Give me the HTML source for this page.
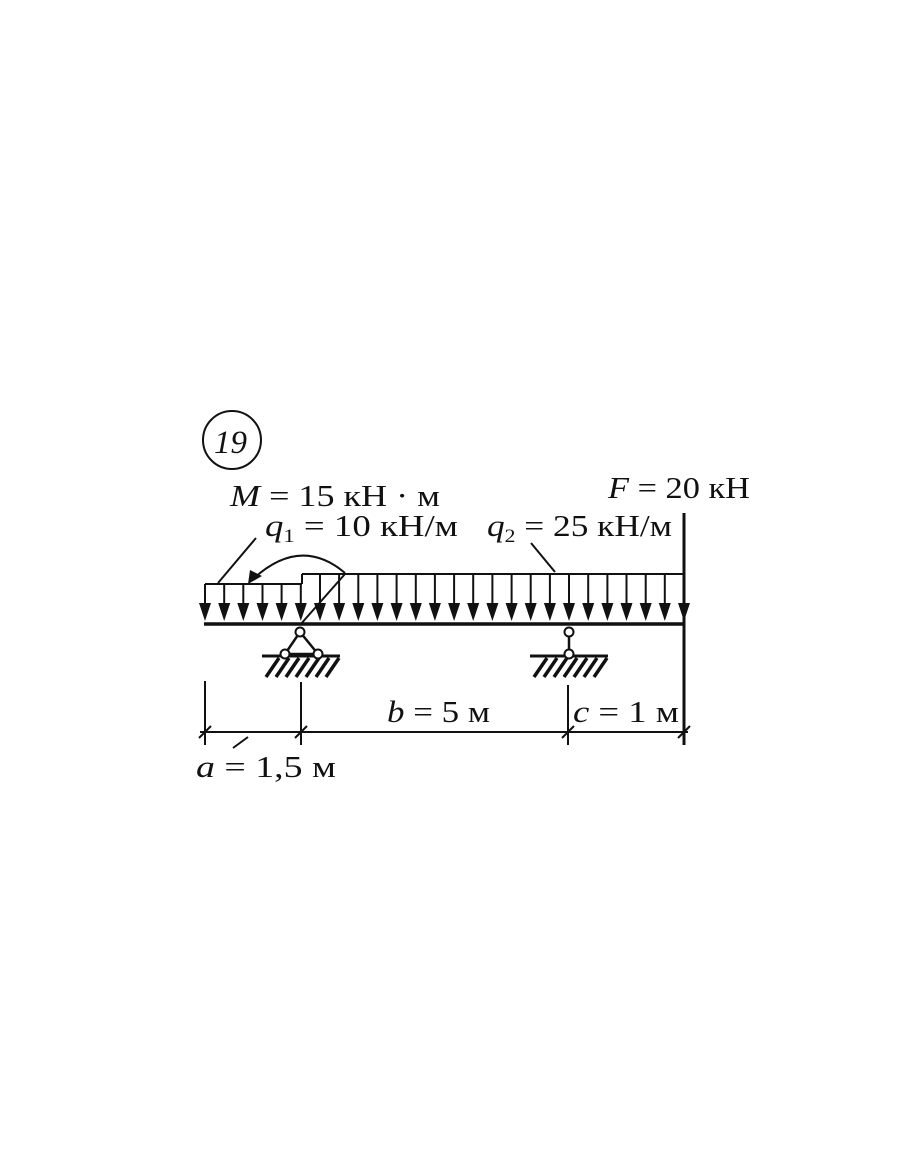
<!DOCTYPE html>
<html><head><meta charset="utf-8"><style>html,body{margin:0;padding:0;background:#fff}svg{display:block}text{font-family:"Liberation Serif",serif}</style></head>
<body>
<svg width="910" height="1155" viewBox="0 0 910 1155" xmlns="http://www.w3.org/2000/svg" fill="#111">
<rect width="910" height="1155" fill="#fff"/>
<circle cx="232" cy="440" r="29" fill="none" stroke="#111" stroke-width="2"/>
<text x="214" y="453" font-size="33" font-style="italic">19</text>
<text x="230" y="506" font-size="31" textLength="210" lengthAdjust="spacingAndGlyphs"><tspan font-style="italic">M</tspan> = 15 кН · м</text>
<text x="265" y="536" font-size="31" textLength="193" lengthAdjust="spacingAndGlyphs"><tspan font-style="italic">q</tspan><tspan font-size="19" dy="6">1</tspan><tspan dy="-6"> = 10 кН/м</tspan></text>
<text x="487" y="536" font-size="31" textLength="185" lengthAdjust="spacingAndGlyphs"><tspan font-style="italic">q</tspan><tspan font-size="19" dy="6">2</tspan><tspan dy="-6"> = 25 кН/м</tspan></text>
<text x="608" y="498" font-size="31" textLength="142" lengthAdjust="spacingAndGlyphs"><tspan font-style="italic">F</tspan> = 20 кН</text>
<g stroke="#111" fill="none" stroke-width="2">
<line x1="684" y1="513" x2="684" y2="745" stroke-width="3"/>
<line x1="205" y1="584" x2="302" y2="584"/>
<line x1="302" y1="574" x2="684" y2="574"/>
<line x1="302" y1="574" x2="302" y2="584"/>
<line x1="204" y1="624" x2="685" y2="624" stroke-width="3.5"/>
<line x1="218" y1="583" x2="256" y2="538"/>
<line x1="555" y1="572" x2="531" y2="543"/>
<path d="M345 573 Q300 535 252 580"/>
<line x1="345" y1="574" x2="300" y2="625"/>
</g>
<polygon points="248,584 250,570 262,576"/>
<g stroke="#111" stroke-width="2">
<line x1="205" y1="584" x2="205" y2="606"/><line x1="224.2" y1="584" x2="224.2" y2="606"/><line x1="243.3" y1="584" x2="243.3" y2="606"/><line x1="262.5" y1="584" x2="262.5" y2="606"/><line x1="281.6" y1="584" x2="281.6" y2="606"/><line x1="300.8" y1="584" x2="300.8" y2="606"/>
<line x1="320" y1="574" x2="320" y2="606"/><line x1="339.1" y1="574" x2="339.1" y2="606"/><line x1="358.3" y1="574" x2="358.3" y2="606"/><line x1="377.4" y1="574" x2="377.4" y2="606"/><line x1="396.6" y1="574" x2="396.6" y2="606"/><line x1="415.8" y1="574" x2="415.8" y2="606"/><line x1="434.9" y1="574" x2="434.9" y2="606"/><line x1="454.1" y1="574" x2="454.1" y2="606"/><line x1="473.2" y1="574" x2="473.2" y2="606"/><line x1="492.4" y1="574" x2="492.4" y2="606"/><line x1="511.6" y1="574" x2="511.6" y2="606"/><line x1="530.7" y1="574" x2="530.7" y2="606"/><line x1="549.9" y1="574" x2="549.9" y2="606"/><line x1="569" y1="574" x2="569" y2="606"/><line x1="588.2" y1="574" x2="588.2" y2="606"/><line x1="607.4" y1="574" x2="607.4" y2="606"/><line x1="626.5" y1="574" x2="626.5" y2="606"/><line x1="645.7" y1="574" x2="645.7" y2="606"/><line x1="664.8" y1="574" x2="664.8" y2="606"/><line x1="684" y1="574" x2="684" y2="606"/>
</g>
<g>
<path d="M199,603h12l-6,18z"/><path d="M218.2,603h12l-6,18z"/><path d="M237.3,603h12l-6,18z"/><path d="M256.5,603h12l-6,18z"/><path d="M275.6,603h12l-6,18z"/><path d="M294.8,603h12l-6,18z"/><path d="M314,603h12l-6,18z"/><path d="M333.1,603h12l-6,18z"/><path d="M352.3,603h12l-6,18z"/><path d="M371.4,603h12l-6,18z"/><path d="M390.6,603h12l-6,18z"/><path d="M409.8,603h12l-6,18z"/><path d="M428.9,603h12l-6,18z"/><path d="M448.1,603h12l-6,18z"/><path d="M467.2,603h12l-6,18z"/><path d="M486.4,603h12l-6,18z"/><path d="M505.6,603h12l-6,18z"/><path d="M524.7,603h12l-6,18z"/><path d="M543.9,603h12l-6,18z"/><path d="M563,603h12l-6,18z"/><path d="M582.2,603h12l-6,18z"/><path d="M601.4,603h12l-6,18z"/><path d="M620.5,603h12l-6,18z"/><path d="M639.7,603h12l-6,18z"/><path d="M658.8,603h12l-6,18z"/><path d="M678,603h12l-6,18z"/>
</g>
<g stroke="#111" stroke-width="2.5" fill="none">
<path d="M300 632 L285 654 M300 632 L318 654 M285 654 L318 654"/>
<line x1="262" y1="656" x2="340" y2="656" stroke-width="3"/>
<path d="M266 677 L279 658 M276 677 L289 658 M286 677 L299 658 M296 677 L309 658 M306 677 L319 658 M316 677 L329 658 M326 677 L339 658" stroke-width="3.5"/>
<line x1="569" y1="634" x2="569" y2="654"/>
<line x1="530" y1="656" x2="608" y2="656" stroke-width="3"/>
<path d="M534 677 L547 658 M544 677 L557 658 M554 677 L567 658 M564 677 L577 658 M574 677 L587 658 M584 677 L597 658 M594 677 L607 658" stroke-width="3.5"/>
</g>
<g stroke="#111" stroke-width="2" fill="#fff">
<circle cx="300" cy="632" r="4.5"/><circle cx="285" cy="654" r="4.5"/><circle cx="318" cy="654" r="4.5"/>
<circle cx="569" cy="632" r="4.5"/><circle cx="569" cy="654" r="4.5"/>
</g>
<g stroke="#111" stroke-width="2" fill="none">
<line x1="205" y1="681" x2="205" y2="745"/>
<line x1="301" y1="682" x2="301" y2="745"/>
<line x1="568" y1="685" x2="568" y2="745"/>
<line x1="200" y1="732" x2="688" y2="732"/>
<path d="M199 738 L211 726 M295 738 L307 726 M562 738 L574 726 M678 738 L690 726 M233 748 L248 737"/>
</g>
<text x="387" y="722" font-size="31" textLength="103" lengthAdjust="spacingAndGlyphs"><tspan font-style="italic">b</tspan> = 5 м</text>
<text x="573" y="722" font-size="31" textLength="106" lengthAdjust="spacingAndGlyphs"><tspan font-style="italic">c</tspan> = 1 м</text>
<text x="196" y="777" font-size="31" textLength="140" lengthAdjust="spacingAndGlyphs"><tspan font-style="italic">a</tspan> = 1,5 м</text>
</svg>
</body></html>
